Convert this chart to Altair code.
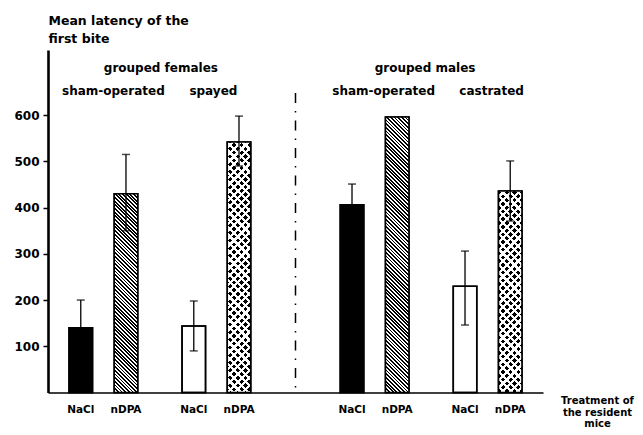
import math
import altair as alt
import pandas as pd

# ---------------- data ----------------
groups = ["grouped females"] * 4 + ["grouped males"] * 4
conditions = ["sham-operated", "sham-operated", "spayed", "spayed",
              "sham-operated", "sham-operated", "castrated", "castrated"]
treatments = ["NaCl", "nDPA"] * 4
means = [140, 430, 144, 542, 406, 596, 230, 436]
err_high = [200, 515, 198, 598, 451, None, 306, 501]
err_low = [80, 350, 90, 490, 361, None, 146, 371]
fill_kind = ["solid", "hatch", "open", "dots", "solid", "hatch", "open", "dots"]
y_ticks = [100, 200, 300, 400, 500, 600]
y_title = ["Mean latency of the", "first bite"]
x_title = ["Treatment of", "the resident", "mice"]

# ---------------- layout / style ----------------
W, H = 495, 342.5
YMAX = 741
BW = 23.5
FONT = "DejaVu Sans"

# slot index of each bar on a band scale (pairs, with wider gap between sexes)
slots = [5 * (i // 2) + 2 * (i % 2) + (2 if groups[i] == "grouped males" else 0)
         for i in range(len(means))]
NSLOT = max(slots) + 1

df = pd.DataFrame({
    "bar": list(range(len(means))),
    "slot": slots,
    "group": groups,
    "cond": conditions,
    "treat": treatments,
    "mean": means,
    "hi": [float("nan") if v is None else v for v in err_high],
    "lo": [float("nan") if v is None else v for v in err_low],
    "kind": fill_kind,
})

label_arr = [""] * NSLOT
for s, t in zip(slots, treatments):
    label_arr[s] = t
label_expr = "[" + ",".join("'%s'" % l for l in label_arr) + "][datum.value]"


def stripe_gradient(h, w, direction, pitch, frac, on, off):
    k = (w + h) / (w * w + h * h)
    if direction == "down":      # "\" lines
        x1, y1, x2, y2 = 0, 1, w * k, 1 - h * k
    else:                        # "/" lines
        x1, y1, x2, y2 = 0, 0, w * k, h * k
    dt = pitch * math.sqrt(2) / (w + h)
    stops = []
    t = 0.0
    while t < 1:
        a = round(t, 5)
        b = round(min(t + frac * dt, 1), 5)
        c = round(min(t + dt, 1), 5)
        stops += [{"offset": a, "color": on}, {"offset": b, "color": on},
                  {"offset": b, "color": off}, {"offset": c, "color": off}]
        t += dt
    return {"gradient": "linear", "x1": x1, "y1": y1,
            "x2": round(x2, 5), "y2": round(y2, 5), "stops": stops}


def band_x(s):
    f = math.floor(s)
    return alt.X(datum=int(f), type="ordinal", bandPosition=s - f + 0.5)


base = alt.Chart(df)

x_enc = alt.X(
    "slot:O",
    scale=alt.Scale(domain=list(range(NSLOT)), paddingInner=0, paddingOuter=0.95),
    axis=alt.Axis(labelExpr=label_expr, title=x_title),
)
x_plain = alt.X("slot:O")

y_enc = alt.Y(
    "mean:Q",
    scale=alt.Scale(domain=[0, YMAX], nice=False, zero=True),
    axis=alt.Axis(values=y_ticks, title=y_title),
)
y_plain = alt.Y("mean:Q")

layers = []
layers.append(
    base.mark_bar(size=BW, stroke="black", strokeWidth=1.5).encode(
        x=x_enc, y=y_enc,
        fill=alt.Fill("kind:N", scale=alt.Scale(domain=["solid", "open", "hatch", "dots"],
                                                range=["black", "white", "white", "white"]),
                      legend=None),
    )
)

for i, kind in enumerate(fill_kind):
    h = means[i] * H / YMAX
    if kind == "hatch":
        grads = [stripe_gradient(h, BW, "down", 2.6, 0.5, "black", "white")]
    elif kind == "dots":
        grads = [stripe_gradient(h, BW, "up", 5.4, 0.58, "black", "white"),
                 stripe_gradient(h, BW, "down", 5.4, 0.58, "rgba(255,255,255,0)", "white")]
    else:
        grads = []
    for g in grads:
        layers.append(
            base.transform_filter(alt.datum.bar == i)
            .mark_bar(size=BW, fill=g, strokeWidth=0)
            .encode(x=x_plain, y=y_plain)
        )

layers.append(
    base.mark_bar(size=BW, fillOpacity=0, stroke="black", strokeWidth=1.6)
    .encode(x=x_plain, y=y_plain)
)

err = base.transform_filter("isValid(datum.hi)")
layers.append(
    err.mark_rule(strokeWidth=1.3, color="black").encode(
        x=x_plain, y=alt.Y("lo:Q"), y2="hi:Q")
)
for col in ["hi", "lo"]:
    layers.append(
        err.mark_tick(orient="horizontal", size=8, thickness=1.5, color="black").encode(
            x=x_plain, y=alt.Y(col + ":Q"))
    )

# dashed divider between the sexes
fem_max = max(s for s, g in zip(slots, groups) if g == "grouped females")
mal_min = min(s for s, g in zip(slots, groups) if g == "grouped males")
one = pd.DataFrame({"a": [0]})
layers.append(
    alt.Chart(one).mark_rule(strokeDash=[10, 8, 1.5, 8], strokeWidth=1.5, color="black").encode(
        x=band_x((fem_max + mal_min) / 2),
        y=alt.Y(datum=648, type="quantitative"),
        y2=alt.Y2(datum=0),
    )
)

# group and condition labels
text_dx = {"grouped females": 1, "grouped males": -6,
           ("grouped females", "sham-operated"): 10, ("grouped females", "spayed"): -3,
           ("grouped males", "sham-operated"): 9, ("grouped males", "castrated"): 4}
for g in dict.fromkeys(groups):
    s = sum(sl for sl, gg in zip(slots, groups) if gg == g) / groups.count(g)
    layers.append(
        alt.Chart(one).mark_text(text=g, font=FONT, fontWeight="bold", fontSize=12,
                                 color="black", baseline="middle", dx=text_dx[g]).encode(
            x=band_x(s), y=alt.Y(datum=702, type="quantitative"))
    )
for key in dict.fromkeys(zip(groups, conditions)):
    ss = [sl for sl, gg, cc in zip(slots, groups, conditions) if (gg, cc) == key]
    s = sum(ss) / len(ss)
    layers.append(
        alt.Chart(one).mark_text(text=key[1], font=FONT, fontWeight="bold", fontSize=12,
                                 color="black", baseline="middle", dx=text_dx[key]).encode(
            x=band_x(s), y=alt.Y(datum=652, type="quantitative"))
    )

chart = alt.layer(*layers).properties(
    width=W, height=H,
    padding={"left": 40, "top": 42, "right": 92, "bottom": 40},
    autosize=alt.AutoSizeParams(type="none"),
).configure(
    background="white",
    view=alt.ViewConfig(stroke=None),
    axisX=alt.AxisConfig(
        labelAngle=0, labelFont=FONT, labelFontWeight="bold",
        labelFontSize=10.5, labelColor="black", labelPadding=12, labelOverlap=False,
        ticks=False, tickSize=0, domainColor="black", domainWidth=1.6, grid=False,
        titleFont=FONT, titleFontWeight="bold", titleFontSize=10,
        titleColor="black", titleAngle=0, titleAlign="center", titleBaseline="top",
        titleX=549, titleY=3, titleLineHeight=11.5,
    ),
    axisY=alt.AxisConfig(
        grid=False, tickSize=5, tickWidth=1.5, tickColor="black",
        domainColor="black", domainWidth=2.6, labelFont=FONT, labelFontWeight="bold",
        labelFontSize=12, labelColor="black", labelPadding=4,
        titleFont=FONT, titleFontWeight="bold", titleFontSize=12.5,
        titleColor="black", titleAngle=0, titleAlign="left", titleBaseline="top",
        titleX=0, titleY=-36, titleLineHeight=18.5,
    ),
)

chart.save("out.html", embed_options={"renderer": "svg", "actions": False})
